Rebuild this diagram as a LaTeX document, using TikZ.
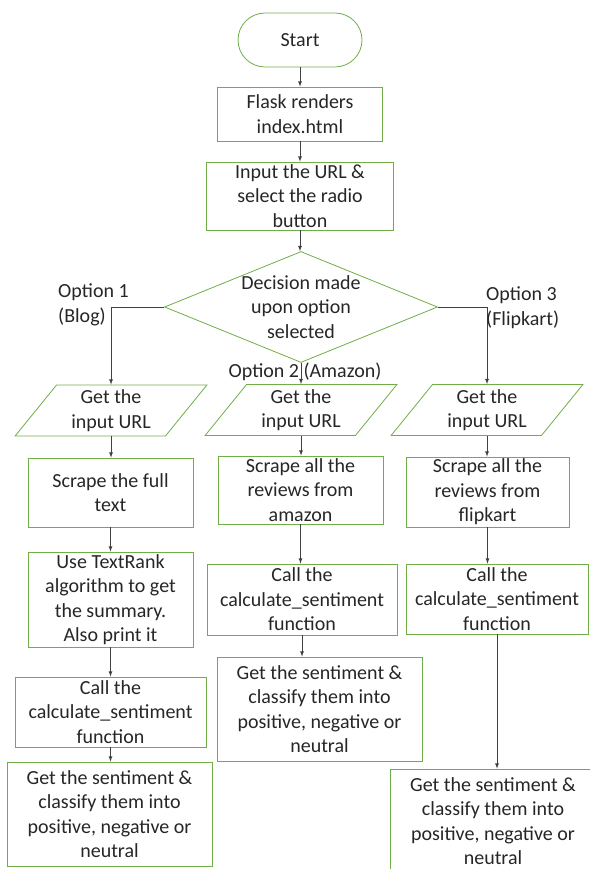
\documentclass[tikz,border=0pt]{standalone}
\usepackage{fontspec}
\setmainfont{Carlito}
\usetikzlibrary{shapes.geometric,shapes.misc}
\definecolor{boxgreen}{RGB}{112,173,71}
\tikzset{
	box/.style={draw=boxgreen,line width=.8pt,align=center,inner sep=0pt,text=black!85},
	term/.style={box,rounded rectangle,minimum width=124,minimum height=54},
	dataio/.style={box,trapezium,trapezium left angle=54,trapezium right angle=126,trapezium stretches=true,minimum width=192,minimum height=51},
	decide/.style={box,diamond,minimum width=273,minimum height=111},
	txt/.style={align=center,inner sep=0pt,text=black!85},
	opt/.style={align=left,inner sep=0pt,anchor=west,text=black!85},
	arr/.style={-latex,line width=.8pt,black!75}
}
\begin{document}
\begin{tikzpicture}[x=1pt,y=-1pt,font=\fontsize{20}{24.5}\selectfont]
	\useasboundingbox (0,0) rectangle (589,869);
	\node[term] (start) at (300,40) {Start};
	\node[box,minimum width=165,minimum height=54] (flask) at (300,114) {Flask renders\\index.html};
	\node[box,minimum width=187,minimum height=68] (input) at (300,196) {Input the URL \&\\select the radio\\button};
	\node[decide] (dec) at (301,307) {};
	\node[txt] (dectxt) at (dec) {Decision made\\upon option\\selected};
	\node[dataio] (url1) at (111,410.5) {Get the\\input URL};
	\node[dataio] (url2) at (301,410) {Get the\\input URL};
	\node[dataio] (url3) at (487,410) {Get the\\input URL};
	\node[box,minimum width=165,minimum height=69] (full) at (110.5,492.5) {Scrape the full\\text};
	\node[box,minimum width=165,minimum height=95] (rank) at (110.5,599.5) {Use TextRank\\algorithm to get\\the summary.\\Also print it};
	\node[box,minimum width=191,minimum height=70] (calc1) at (110.5,712) {Call the\\calculate\_sentiment\\function};
	\node[box,minimum width=205,minimum height=104] (sent1) at (109.5,814) {Get the sentiment \&\\classify them into\\positive, negative or\\neutral};
	\node[box,minimum width=165,minimum height=68] (amz) at (300.5,490) {Scrape all the\\reviews from\\amazon};
	\node[box,minimum width=190,minimum height=71] (calc2) at (302,599.5) {Call the\\calculate\_sentiment\\function};
	\node[box,minimum width=205,minimum height=104] (sent2) at (319.5,709) {Get the sentiment \&\\classify them into\\positive, negative or\\neutral};
	\node[box,minimum width=163,minimum height=70] (flip) at (487.5,492) {Scrape all the\\reviews from\\flipkart};
	\node[box,minimum width=182,minimum height=70] (calc3) at (497,599) {Call the\\calculate\_sentiment\\function};
	\node[box,minimum width=205,minimum height=104] (sent3) at (493,821) {Get the sentiment \&\\classify them into\\positive, negative or\\neutral};
	\foreach \a/\b in {start/flask,flask/input,input/dec,url1/full,full/rank,rank/calc1,calc1/sent1,url2/amz,amz/calc2,calc2/sent2,url3/flip,flip/calc3,calc3/sent3}
		\draw[arr] (\a.south) -- (\a.south |- \b.north);
	\draw[arr] (dec.west) -| (url1.north);
	\draw[arr] (dec.east) -| (url3.north);
	\draw[arr] (dec.south) -- (dec.south |- url2.north);
	\node[opt] (opt1) at (58,305) {Option 1\\(Blog)};
	\node[opt] (opt3) at (486,307.5) {Option 3\\(Flipkart)};
	\node[txt] (opt2) at (305,372) {Option 2 (Amazon)};
\end{tikzpicture}
\end{document}
